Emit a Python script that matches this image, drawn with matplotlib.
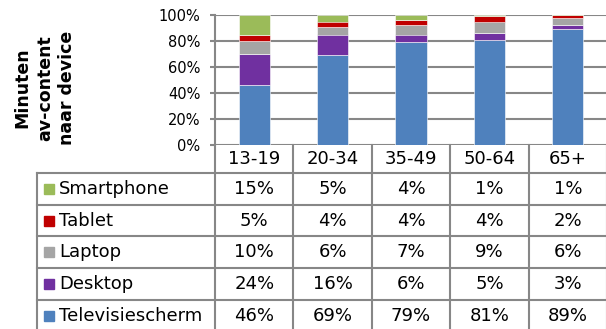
import numpy as np
import matplotlib
matplotlib.use("Agg")
import matplotlib.pyplot as plt
from matplotlib.patches import Rectangle

age_groups = ["13-19", "20-34", "35-49", "50-64", "65+"]
devices = ["Televisiescherm", "Desktop", "Laptop", "Tablet", "Smartphone"]
televisiescherm = [46, 69, 79, 81, 89]
desktop = [24, 16, 6, 5, 3]
laptop = [10, 6, 7, 9, 6]
tablet = [5, 4, 4, 4, 2]
smartphone = [15, 5, 4, 1, 1]
device_colors = ["#4F81BD", "#7030A0", "#A5A5A5", "#C00000", "#9BBB59"]
y_ticks = [0, 20, 40, 60, 80, 100]

W, H = 606, 329
GRID = "#878787"


def px_box(x0, x1, y0, y1):
    """Axes rectangle from pixel edges, y counted from the top."""
    return [x0 / W, 1 - y1 / H, (x1 - x0) / W, (y1 - y0) / H]


fig = plt.figure(figsize=(W / 100, H / 100), dpi=100)

# stacked bars
ax = fig.add_axes(px_box(215, 607, 15, 145))
series = [televisiescherm, desktop, laptop, tablet, smartphone]
x = np.arange(len(age_groups))
bottom = np.zeros(len(age_groups))
for vals, color in zip(series, device_colors):
    ax.bar(x, vals, 0.4, bottom=bottom, color=color, edgecolor="white",
           linewidth=0.4, zorder=3)
    bottom += vals
ax.set_xlim(-0.5, len(age_groups) - 0.5)
ax.set_ylim(0, 100)
ax.set_yticks(y_ticks)
ax.set_yticklabels([f"{v}%" for v in y_ticks], fontsize=10.5)
ax.yaxis.grid(True, color=GRID, linewidth=1.5)
ax.set_axisbelow(True)
ax.set_xticks([])
for side in ["top", "right", "bottom"]:
    ax.spines[side].set_visible(False)
ax.spines["left"].set_color(GRID)
ax.spines["left"].set_linewidth(1.5)
ax.tick_params(axis="y", length=3.6, width=1.5, color=GRID, pad=7)

fig.text(45 / W, 1 - 88 / H, "Minuten\nav-content\nnaar device", rotation=90,
         ha="center", va="center", multialignment="center",
         fontsize=12.5, fontweight="bold", linespacing=1.3)

# data table under the bars
tab = fig.add_axes(px_box(37, 607, 145, 332))
tab.set_xlim(37, 607)
tab.set_ylim(332, 145)
tab.axis("off")
col_edges = np.linspace(215, 607, len(age_groups) + 1)
row_edges = np.linspace(173, 331.5, len(devices) + 1)
col_mid = (col_edges[:-1] + col_edges[1:]) / 2
row_mid = (row_edges[:-1] + row_edges[1:]) / 2

line_kw = dict(color=GRID, linewidth=1.5, clip_on=False)
for xe in col_edges:
    tab.plot([xe, xe], [145, row_edges[-1]], **line_kw)
tab.plot([37, 37], [row_edges[0], row_edges[-1]], **line_kw)
for ye in row_edges:
    tab.plot([37, 607], [ye, ye], **line_kw)

for xm, label in zip(col_mid, age_groups):
    tab.text(xm, (145 + row_edges[0]) / 2, label, ha="center", va="center",
             fontsize=13)

table_rows = list(zip(devices, series, device_colors))[::-1]
for ym, (name, vals, color) in zip(row_mid, table_rows):
    tab.add_patch(Rectangle((44, ym - 5), 10, 10, color=color))
    tab.text(59, ym, name, ha="left", va="center", fontsize=13)
    for xm, v in zip(col_mid, vals):
        tab.text(xm, ym, f"{v}%", ha="center", va="center", fontsize=13)

fig.savefig("out.png", dpi=100, facecolor="white")
